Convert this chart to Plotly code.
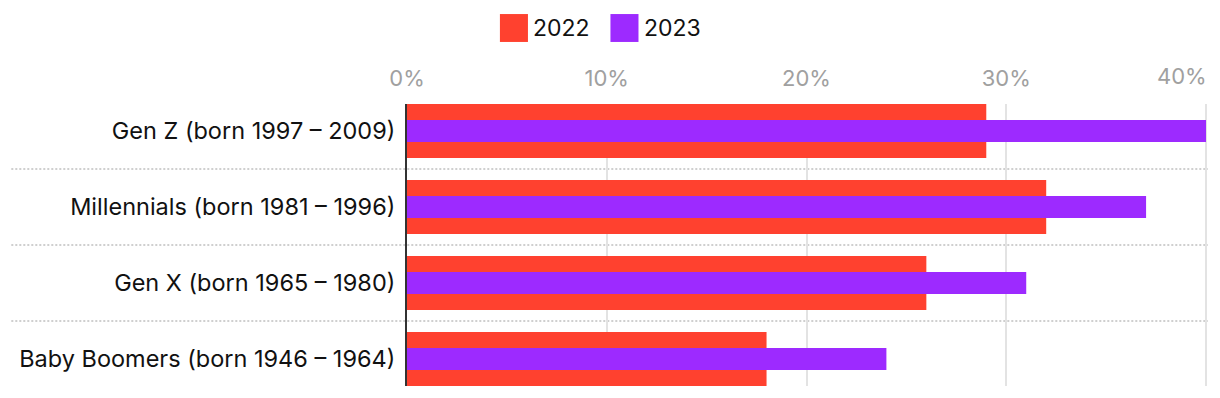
import plotly.graph_objects as go

categories = [
    "Gen Z (born 1997 – 2009)",
    "Millennials (born 1981 – 1996)",
    "Gen X (born 1965 – 1980)",
    "Baby Boomers (born 1946 – 1964)",
]
values_2022 = [29, 32, 26, 18]
values_2023 = [40, 37, 31, 24]
series_names = ["2022", "2023"]
series_colors = ["#FF412F", "#9D2AFF"]
tick_vals = [0, 10, 20, 30, 40]
tick_text = ["0%", "10%", "20%", "30%", "40%"]

FONT = "Inter, Roboto, sans-serif"

fig = go.Figure()
fig.add_trace(go.Bar(
    y=categories, x=values_2022, orientation="h", name=series_names[0],
    marker=dict(color=series_colors[0], line=dict(width=0)), width=0.71,
    showlegend=False,
))
fig.add_trace(go.Bar(
    y=categories, x=values_2023, orientation="h", name=series_names[1],
    marker=dict(color=series_colors[1], line=dict(width=0)), width=0.29,
    showlegend=False,
))

# dotted separators between categories (extend into label area)
for i in range(len(categories) - 1):
    fig.add_shape(type="line", xref="paper", yref="y",
                  x0=-0.494, x1=1.0, y0=i + 0.5, y1=i + 0.5,
                  line=dict(color="#cfcfcf", width=2, dash="2px,2px"), layer="below")

# custom legend (large squares)
leg_x = [0.116, 0.254]
for name, color, lx in zip(series_names, series_colors, leg_x):
    fig.add_shape(type="rect", xref="paper", yref="paper",
                  x0=lx, x1=lx + 0.035, y0=1.22, y1=1.319,
                  fillcolor=color, line=dict(width=0))
    fig.add_annotation(xref="paper", yref="paper", x=lx + 0.039, y=1.27,
                       text=name, showarrow=False, xanchor="left", yanchor="middle",
                       font=dict(family=FONT, size=23, color="#111111"))

# last tick label is right-aligned to its gridline (as in the reference)
axis_tick_text = tick_text[:-1] + [""]
fig.add_annotation(xref="x", yref="paper", x=tick_vals[-1], y=1.0,
                   yshift=13, xshift=3, text=tick_text[-1], showarrow=False,
                   xanchor="right", yanchor="bottom",
                   font=dict(family=FONT, size=22, color="#a0a0a0"))

fig.update_layout(
    width=1212, height=390,
    margin=dict(l=399, r=12, t=96, b=12),
    barmode="overlay",
    paper_bgcolor="white", plot_bgcolor="white",
    font=dict(family=FONT, size=23, color="#111111"),
    showlegend=False,
)
fig.update_xaxes(
    side="top", range=[0, 40.1], tickvals=tick_vals, ticktext=axis_tick_text,
    showgrid=True, gridcolor="#e3e3e3", gridwidth=2,
    zeroline=False, showline=False, ticks="",
    tickfont=dict(family=FONT, size=22, color="#a0a0a0"),
    ticklabelstandoff=13,
)
fig.update_yaxes(
    categoryorder="array", categoryarray=categories,
    range=[3.355, -0.355], showgrid=False, zeroline=False,
    showline=True, linecolor="#333333", linewidth=2, ticks="",
    tickfont=dict(family=FONT, size=23.5, color="#111111"),
    ticklabelstandoff=5,
)

fig.write_html("out.html")
